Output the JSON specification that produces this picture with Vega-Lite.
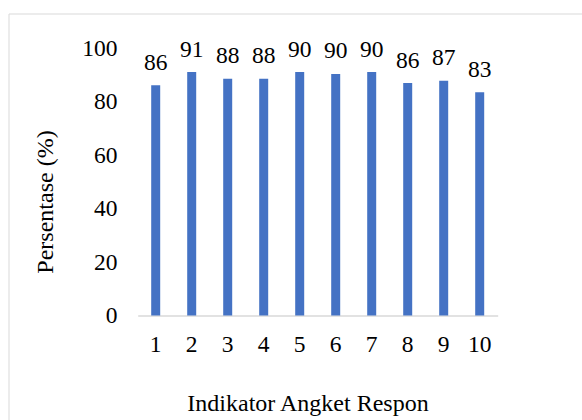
{
  "$schema": "https://vega.github.io/schema/vega-lite/v6.json",
  "autosize": {"type": "none"},
  "padding": {"left": 8.5, "top": 13.5, "right": 0, "bottom": 0},
  "width": 573.5,
  "height": 406.5,
  "background": "#ffffff",
  "config": {
    "view": {"stroke": "#D9D9D9", "strokeWidth": 1},
    "font": "Liberation Serif"
  },
  "data": {
    "values": [
      {"indikator": "1", "persen": 86.1, "label": "86"},
      {"indikator": "2", "persen": 91.0, "label": "91"},
      {"indikator": "3", "persen": 88.5, "label": "88"},
      {"indikator": "4", "persen": 88.5, "label": "88"},
      {"indikator": "5", "persen": 91.0, "label": "90"},
      {"indikator": "6", "persen": 90.3, "label": "90"},
      {"indikator": "7", "persen": 91.0, "label": "90"},
      {"indikator": "8", "persen": 86.9, "label": "86"},
      {"indikator": "9", "persen": 87.8, "label": "87"},
      {"indikator": "10", "persen": 83.5, "label": "83"}
    ]
  },
  "encoding": {
    "x": {
      "field": "indikator",
      "type": "nominal",
      "scale": {
        "domain": ["1", "2", "3", "4", "5", "6", "7", "8", "9", "10"],
        "range": [129.2, 489.2],
        "paddingInner": 0,
        "paddingOuter": 0
      },
      "axis": {
        "orient": "bottom",
        "offset": -104.5,
        "title": "Indikator Angket Respon",
        "titleFont": "Liberation Serif",
        "titleFontSize": 24,
        "titleFontWeight": "normal",
        "titleColor": "#000000",
        "titleX": 299,
        "titleY": 94.5,
        "titleAlign": "center",
        "titleBaseline": "alphabetic",
        "labelAngle": 0,
        "labelFont": "Liberation Serif",
        "labelFontSize": 23.5,
        "labelColor": "#000000",
        "labelBaseline": "alphabetic",
        "labelPadding": 36,
        "ticks": false,
        "tickSize": 0,
        "domain": true,
        "domainColor": "#D9D9D9",
        "domainWidth": 1.5,
        "grid": false
      }
    },
    "y": {
      "field": "persen",
      "type": "quantitative",
      "scale": {"domain": [0, 100], "range": [302, 34.5], "nice": false},
      "axis": {
        "orient": "left",
        "offset": -108.5,
        "values": [0, 20, 40, 60, 80, 100],
        "title": "Persentase (%)",
        "titleFont": "Liberation Serif",
        "titleFontSize": 24,
        "titleFontWeight": "normal",
        "titleColor": "#000000",
        "titleAngle": -90,
        "titleX": -65,
        "titleY": 188,
        "titleAlign": "center",
        "titleBaseline": "alphabetic",
        "labelFont": "Liberation Serif",
        "labelFontSize": 23.5,
        "labelColor": "#000000",
        "labelPadding": 0,
        "ticks": false,
        "tickSize": 0,
        "domain": false,
        "grid": false
      }
    }
  },
  "layer": [
    {
      "mark": {"type": "bar", "color": "#4472C4", "width": {"band": 0.25}}
    },
    {
      "mark": {
        "type": "text",
        "baseline": "alphabetic",
        "align": "center",
        "dy": -15.5,
        "font": "Liberation Serif",
        "fontSize": 23.5,
        "color": "#000000"
      },
      "encoding": {"text": {"field": "label"}}
    }
  ]
}
